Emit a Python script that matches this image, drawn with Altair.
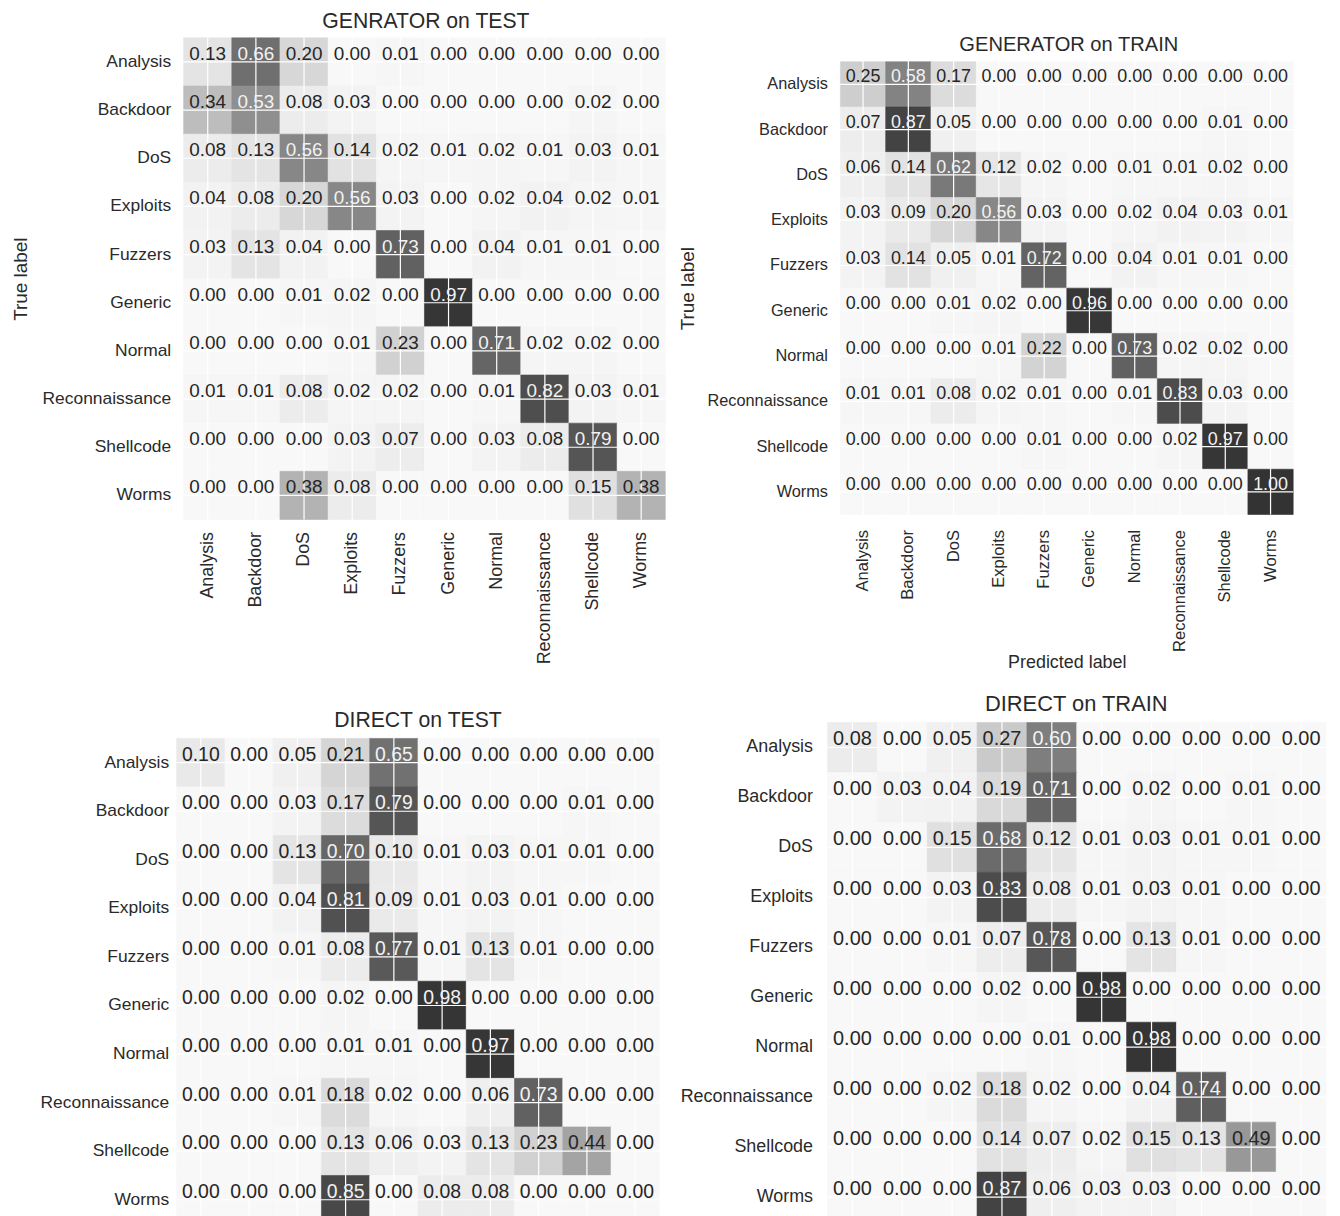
import altair as alt
import pandas as pd

classes = ["Analysis", "Backdoor", "DoS", "Exploits", "Fuzzers", "Generic",
           "Normal", "Reconnaissance", "Shellcode", "Worms"]

gen_test = [
    [0.13, 0.66, 0.20, 0.00, 0.01, 0.00, 0.00, 0.00, 0.00, 0.00],
    [0.34, 0.53, 0.08, 0.03, 0.00, 0.00, 0.00, 0.00, 0.02, 0.00],
    [0.08, 0.13, 0.56, 0.14, 0.02, 0.01, 0.02, 0.01, 0.03, 0.01],
    [0.04, 0.08, 0.20, 0.56, 0.03, 0.00, 0.02, 0.04, 0.02, 0.01],
    [0.03, 0.13, 0.04, 0.00, 0.73, 0.00, 0.04, 0.01, 0.01, 0.00],
    [0.00, 0.00, 0.01, 0.02, 0.00, 0.97, 0.00, 0.00, 0.00, 0.00],
    [0.00, 0.00, 0.00, 0.01, 0.23, 0.00, 0.71, 0.02, 0.02, 0.00],
    [0.01, 0.01, 0.08, 0.02, 0.02, 0.00, 0.01, 0.82, 0.03, 0.01],
    [0.00, 0.00, 0.00, 0.03, 0.07, 0.00, 0.03, 0.08, 0.79, 0.00],
    [0.00, 0.00, 0.38, 0.08, 0.00, 0.00, 0.00, 0.00, 0.15, 0.38],
]

gen_train = [
    [0.25, 0.58, 0.17, 0.00, 0.00, 0.00, 0.00, 0.00, 0.00, 0.00],
    [0.07, 0.87, 0.05, 0.00, 0.00, 0.00, 0.00, 0.00, 0.01, 0.00],
    [0.06, 0.14, 0.62, 0.12, 0.02, 0.00, 0.01, 0.01, 0.02, 0.00],
    [0.03, 0.09, 0.20, 0.56, 0.03, 0.00, 0.02, 0.04, 0.03, 0.01],
    [0.03, 0.14, 0.05, 0.01, 0.72, 0.00, 0.04, 0.01, 0.01, 0.00],
    [0.00, 0.00, 0.01, 0.02, 0.00, 0.96, 0.00, 0.00, 0.00, 0.00],
    [0.00, 0.00, 0.00, 0.01, 0.22, 0.00, 0.73, 0.02, 0.02, 0.00],
    [0.01, 0.01, 0.08, 0.02, 0.01, 0.00, 0.01, 0.83, 0.03, 0.00],
    [0.00, 0.00, 0.00, 0.00, 0.01, 0.00, 0.00, 0.02, 0.97, 0.00],
    [0.00, 0.00, 0.00, 0.00, 0.00, 0.00, 0.00, 0.00, 0.00, 1.00],
]

direct_test = [
    [0.10, 0.00, 0.05, 0.21, 0.65, 0.00, 0.00, 0.00, 0.00, 0.00],
    [0.00, 0.00, 0.03, 0.17, 0.79, 0.00, 0.00, 0.00, 0.01, 0.00],
    [0.00, 0.00, 0.13, 0.70, 0.10, 0.01, 0.03, 0.01, 0.01, 0.00],
    [0.00, 0.00, 0.04, 0.81, 0.09, 0.01, 0.03, 0.01, 0.00, 0.00],
    [0.00, 0.00, 0.01, 0.08, 0.77, 0.01, 0.13, 0.01, 0.00, 0.00],
    [0.00, 0.00, 0.00, 0.02, 0.00, 0.98, 0.00, 0.00, 0.00, 0.00],
    [0.00, 0.00, 0.00, 0.01, 0.01, 0.00, 0.97, 0.00, 0.00, 0.00],
    [0.00, 0.00, 0.01, 0.18, 0.02, 0.00, 0.06, 0.73, 0.00, 0.00],
    [0.00, 0.00, 0.00, 0.13, 0.06, 0.03, 0.13, 0.23, 0.44, 0.00],
    [0.00, 0.00, 0.00, 0.85, 0.00, 0.08, 0.08, 0.00, 0.00, 0.00],
]

direct_train = [
    [0.08, 0.00, 0.05, 0.27, 0.60, 0.00, 0.00, 0.00, 0.00, 0.00],
    [0.00, 0.03, 0.04, 0.19, 0.71, 0.00, 0.02, 0.00, 0.01, 0.00],
    [0.00, 0.00, 0.15, 0.68, 0.12, 0.01, 0.03, 0.01, 0.01, 0.00],
    [0.00, 0.00, 0.03, 0.83, 0.08, 0.01, 0.03, 0.01, 0.00, 0.00],
    [0.00, 0.00, 0.01, 0.07, 0.78, 0.00, 0.13, 0.01, 0.00, 0.00],
    [0.00, 0.00, 0.00, 0.02, 0.00, 0.98, 0.00, 0.00, 0.00, 0.00],
    [0.00, 0.00, 0.00, 0.00, 0.01, 0.00, 0.98, 0.00, 0.00, 0.00],
    [0.00, 0.00, 0.02, 0.18, 0.02, 0.00, 0.04, 0.74, 0.00, 0.00],
    [0.00, 0.00, 0.00, 0.14, 0.07, 0.02, 0.15, 0.13, 0.49, 0.00],
    [0.00, 0.00, 0.00, 0.87, 0.06, 0.03, 0.03, 0.00, 0.00, 0.00],
]

titles = ["GENRATOR on TEST", "GENERATOR on TRAIN", "DIRECT on TEST", "DIRECT on TRAIN"]

FONT = "Liberation Sans"
INK = "#2a2a2a"

color_scale = alt.Scale(
    type="linear",
    domain=[0, 0.13, 0.34, 0.53, 0.66, 0.79, 0.9, 1.0],
    range=["#f8f8f8", "#e4e4e4", "#bdbdbd", "#8f8f8f", "#6f6f6f", "#555555", "#3d3d3d", "#333333"],
)


def cells(matrix):
    rows = []
    for i, t in enumerate(classes):
        for j, p in enumerate(classes):
            rows.append({"true": t, "pred": p, "value": matrix[i][j]})
    return pd.DataFrame(rows)


cols_df = pd.DataFrame({"pred": classes})
rows_df = pd.DataFrame({"true": classes})


def panel(matrix, title, w, h, xr, yr, value_size, xaxis, yaxis,
          title_size, title_offset, title_dx):
    x = alt.X("pred:N", sort=classes,
              scale=alt.Scale(range=xr, paddingInner=0, paddingOuter=0), axis=xaxis)
    y = alt.Y("true:N", sort=classes,
              scale=alt.Scale(range=yr, paddingInner=0, paddingOuter=0), axis=yaxis)
    df = cells(matrix)
    rect = alt.Chart(df).mark_rect(strokeWidth=0.6).encode(
        x=x, y=y,
        color=alt.Color("value:Q", scale=color_scale, legend=None),
        stroke=alt.Stroke("value:Q", scale=color_scale, legend=None),
    )
    vgrid = alt.Chart(cols_df).mark_rule(color="white", strokeWidth=1.2).encode(x=x)
    hgrid = alt.Chart(rows_df).mark_rule(color="white", strokeWidth=1.2).encode(y=y)
    text = alt.Chart(df).mark_text(
        font=FONT, fontSize=value_size, baseline="alphabetic", dy=-2
    ).encode(
        x=x, y=y,
        text=alt.Text("value:Q", format=".2f"),
        color=alt.when(alt.datum.value > 0.5)
        .then(alt.value("#f2f2f2"))
        .otherwise(alt.value("#262626")),
    )
    return alt.layer(rect, vgrid, hgrid, text).properties(
        width=w, height=h,
        title=alt.TitleParams(
            title, fontSize=title_size, font=FONT, fontWeight="normal", color=INK,
            anchor="middle", frame="group", baseline="middle",
            offset=title_offset, dx=title_dx,
        ),
    )


def xaxis_full(label_size, pad, title=None, title_y=None):
    kw = dict(labelAngle=270, labelFontSize=label_size, labelPadding=pad,
              ticks=False, tickSize=0, domain=False, grid=False,
              labelFont=FONT, labelColor=INK)
    if title is None:
        kw["title"] = None
    else:
        kw.update(title=title, titleFontSize=18, titleFont=FONT, titleColor=INK,
                  titleFontWeight="normal", titleY=title_y, titleBaseline="middle")
    return alt.Axis(**kw)


def yaxis_full(label_size, pad, title=None, title_x=None):
    kw = dict(labelFontSize=label_size, labelPadding=pad,
              ticks=False, tickSize=0, domain=False, grid=False,
              labelFont=FONT, labelColor=INK)
    if title is None:
        kw["title"] = None
    else:
        kw.update(title=title, titleFontSize=19, titleFont=FONT, titleColor=INK,
                  titleFontWeight="normal", titleX=title_x, titleBaseline="middle",
                  titleAngle=270)
    return alt.Axis(**kw)


tl = panel(gen_test, titles[0], 491, 484, [7, 491], [0, 484], 19,
           xaxis_full(18, 12), yaxis_full(17.5, 6, "True label", -157),
           21.3, -6.3, 5)
tr = panel(gen_train, titles[1], 468, 479, [13, 468], [24, 479], 18,
           xaxis_full(16.6, 15, "Predicted label", 149),
           yaxis_full(16.4, 0, "True label", -141),
           20.2, -27.8, 8.5)
bl = panel(direct_test, titles[2], 485, 506, [0, 485], [18, 506], 19.5,
           None, yaxis_full(17.5, 8),
           21.3, -22.8, 0)
br = panel(direct_train, titles[3], 501, 504, [0, 501], [2, 504], 20,
           None, yaxis_full(18, 15),
           22, -5.8, -0.5)

chart = alt.concat(
    tl, tr, bl, br, columns=2,
    spacing=alt.RowColnumber(row=202, column=163),
    bounds="flush", align="each",
).properties(
    padding={"left": 3.5, "top": 0, "right": 5, "bottom": 5},
    background="white",
).configure_view(stroke=None)

chart.save("out.html", embed_options={"renderer": "svg", "actions": False})
